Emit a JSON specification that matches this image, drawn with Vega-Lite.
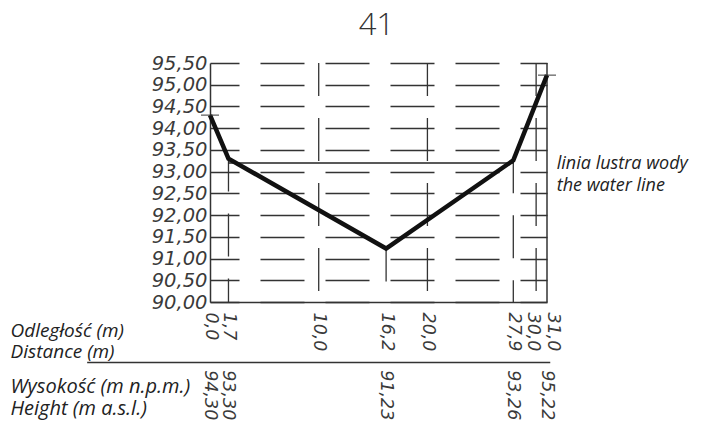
{
  "$schema": "https://vega.github.io/schema/vega-lite/v6.json",
  "autosize": {"type": "none"},
  "padding": {"left": 210, "top": 63, "right": 158, "bottom": 130},
  "width": 337,
  "height": 239,
  "background": "white",
  "title": {"text": "41", "font": "Open Sans", "fontWeight": 300, "fontSize": 31, "color": "#333", "frame": "group", "anchor": "middle", "baseline": "alphabetic", "offset": -13, "dx": -2},
  "config": {
    "locale": {"number": {"decimal": ",", "thousands": " ", "grouping": [3], "currency": ["", ""]}},
    "view": {"stroke": null},
    "axis": {"labelFont": "DejaVu Sans", "labelFontWeight": 200, "labelFontStyle": "italic", "labelFontSize": 19.5, "labelColor": "#3a3a3a", "ticks": false, "domainColor": "#333", "domainWidth": 1.5, "titleFont": "Open Sans", "titleFontStyle": "italic", "titleFontWeight": "normal", "titleFontSize": 19, "titleColor": "#222"}
  },
  "datasets": {
    "profile": [
      {"d": 0.0, "h": 94.30},
      {"d": 1.7, "h": 93.30},
      {"d": 16.2, "h": 91.23},
      {"d": 27.9, "h": 93.26},
      {"d": 31.0, "h": 95.22}
    ],
    "verticals": [
      {"d": 1.7, "h": 93.30},
      {"d": 10.0, "h": 95.50},
      {"d": 16.2, "h": 91.23},
      {"d": 20.0, "h": 95.50},
      {"d": 27.9, "h": 93.26},
      {"d": 30.0, "h": 95.50}
    ],
    "border": [{"d": 31.0, "h": 95.50}],
    "water": [{"d": 1.7, "d2": 27.9, "h": 93.2, "label": "linia lustra wody\nthe water line"}],
    "ends": [{"d": 0.0, "h": 94.30}, {"d": 31.0, "h": 95.22}]
  },
  "encoding": {
    "x": {"field": "d", "type": "quantitative", "scale": {"domain": [0, 31], "nice": false, "zero": false},
      "axis": {"values": [0, 1.7, 10, 16.2, 20, 27.9, 30, 31], "tickCount": 20, "format": ".1f", "labelFontSize": 17.5, "labelAngle": 90, "labelPadding": 10, "labelOverlap": false, "labelFlush": false, "grid": false,
        "labelOffset": {"condition": [{"test": "datum.value == 30", "value": -4}, {"test": "datum.value == 31", "value": 5}], "value": 0},
        "title": ["Odległość (m)", "Distance (m)"], "titleX": -200, "titleY": 34, "titleAlign": "left", "titleAnchor": null, "titleAngle": 0, "titleBaseline": "alphabetic", "titleLineHeight": 21.5}},
    "y": {"field": "h", "type": "quantitative", "scale": {"domain": [90, 95.5], "nice": false, "zero": false},
      "axis": {"values": [90, 90.5, 91, 91.5, 92, 92.5, 93, 93.5, 94, 94.5, 95, 95.5], "tickCount": 20, "format": ".2f", "labelPadding": 3, "labelOverlap": false, "labelFlush": false, "grid": true, "gridColor": "#333", "gridWidth": 1.3, "gridDash": [44, 21], "gridDashOffset": 15,
        "title": ["Wysokość (m n.p.m.)", "Height (m a.s.l.)"], "titleX": -200, "titleY": 329, "titleAlign": "left", "titleAnchor": null, "titleAngle": 0, "titleBaseline": "alphabetic", "titleLineHeight": 22.5, "titleFontSize": 20}}
  },
  "layer": [
    {
      "data": {"name": "verticals"},
      "mark": {"type": "rule", "color": "#333", "strokeWidth": 1.3, "strokeDash": [43, 22], "strokeDashOffset": 10},
      "encoding": {"y2": {"datum": 90}}
    },
    {
      "data": {"name": "border"},
      "mark": {"type": "rule", "color": "#333", "strokeWidth": 1.5},
      "encoding": {"y2": {"datum": 90}}
    },
    {
      "data": {"name": "water"},
      "mark": {"type": "rule", "color": "#222", "strokeWidth": 1.4},
      "encoding": {"x2": {"field": "d2"}}
    },
    {
      "data": {"name": "water"},
      "mark": {"type": "text", "font": "Open Sans", "fontStyle": "italic", "fontSize": 18, "color": "#222", "align": "left", "baseline": "alphabetic", "lineBreak": "\n", "lineHeight": 22, "dy": 6},
      "encoding": {
        "x": {"datum": 31.9, "type": "quantitative"},
        "text": {"field": "label"}
      }
    },
    {
      "data": {"name": "profile"},
      "mark": {"type": "line", "color": "#111", "strokeWidth": 4.5},
      "encoding": {}
    },
    {
      "data": {"name": "ends"},
      "mark": {"type": "tick", "orient": "horizontal", "color": "#333", "thickness": 1.4, "size": 18},
      "encoding": {}
    },
    {
      "data": {"name": "profile"},
      "mark": {"type": "text", "font": "DejaVu Sans", "fontWeight": 200, "fontStyle": "italic", "fontSize": 17.5, "color": "#3a3a3a", "angle": 90, "align": "left", "baseline": "middle"},
      "encoding": {
        "y": {"datum": 88.43, "type": "quantitative"},
        "text": {"field": "h", "type": "quantitative", "format": ".2f"}
      }
    },
    {
      "data": {"name": "water"},
      "mark": {"type": "rule", "color": "#333", "strokeWidth": 1.5},
      "encoding": {
        "x": {"datum": -11.3, "type": "quantitative"},
        "x2": {"datum": 31.3},
        "y": {"datum": 88.61, "type": "quantitative"}
      }
    }
  ]
}
